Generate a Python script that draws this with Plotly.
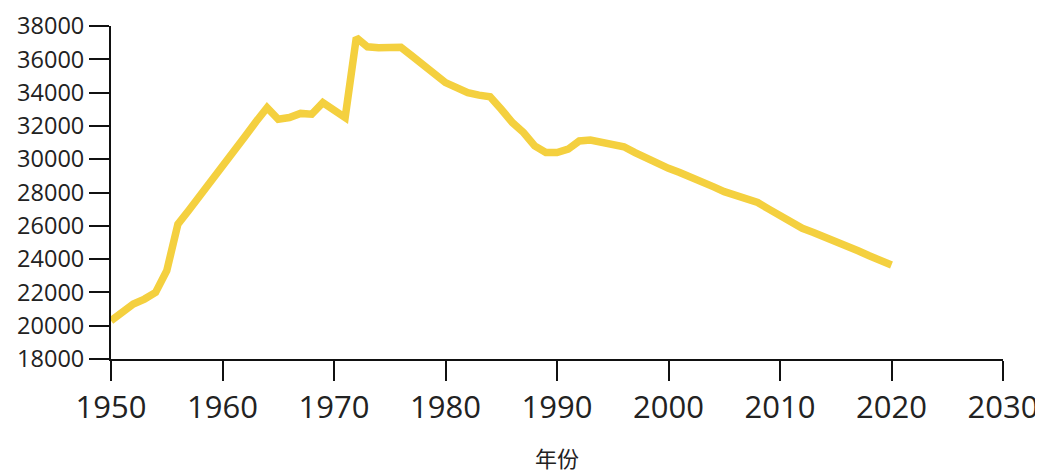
import plotly.graph_objects as go

years = list(range(1950, 2021))
values = [
    20300, 20800, 21300, 21600, 22000, 23300, 26100, 26950, 27800, 28700,
    29600, 30500, 31350, 32250, 33100, 32400, 32500, 32750, 32700, 33400,
    33000, 32500, 37300, 36750, 36700, 36680, 36720, 36200, 35700, 35200,
    34600, 34300, 34000, 33850, 33750, 33000, 32200, 31600, 30800, 30400,
    30400, 30600, 31100, 31150, 31050, 30900, 30750, 30400, 30050, 29700,
    29450, 29200, 28950, 28700, 28350, 28050, 27850, 27650, 27400, 27000,
    26600, 26200, 25850, 25600, 25350, 25100, 24800, 24500, 24200, 23900,
    23650,
]
x_title = "年份"

fig = go.Figure()
fig.add_trace(go.Scatter(
    x=years, y=values, mode="lines",
    line=dict(color="#F4D03F", width=7.5),
    hoverinfo="skip", showlegend=False,
))

# page body has an 8px default margin; compensate so the plot lands where the reference has it
fig.update_layout(
    template="none",
    width=1035, height=465,
    margin=dict(l=103, r=40, t=18, b=114, pad=0),
    paper_bgcolor="white", plot_bgcolor="white",
    font=dict(family="Open Sans", color="#222"),
    xaxis=dict(
        range=[1950, 2030], dtick=10, tick0=1950, automargin=False,
        showline=True, linecolor="#111", linewidth=2,
        ticks="outside", ticklen=20, tickwidth=2, tickcolor="#111",
        showgrid=False, zeroline=False, ticklabeloverflow="allow",
        tickfont=dict(family="Open Sans", size=31, color="#222"),
        title=dict(text=x_title, font=dict(family="Noto Sans CJK SC", size=22, color="#222"), standoff=29),
    ),
    yaxis=dict(
        range=[18000, 38000], dtick=2000, tick0=18000, automargin=False,
        showline=True, linecolor="#111", linewidth=2,
        ticks="outside", ticklen=20, tickwidth=2, tickcolor="#111",
        showgrid=False, zeroline=False, ticklabeloverflow="allow",
        tickfont=dict(family="Open Sans", size=23.5, color="#222"),
        tickformat="d",
    ),
)

fig.write_html("out.html")
